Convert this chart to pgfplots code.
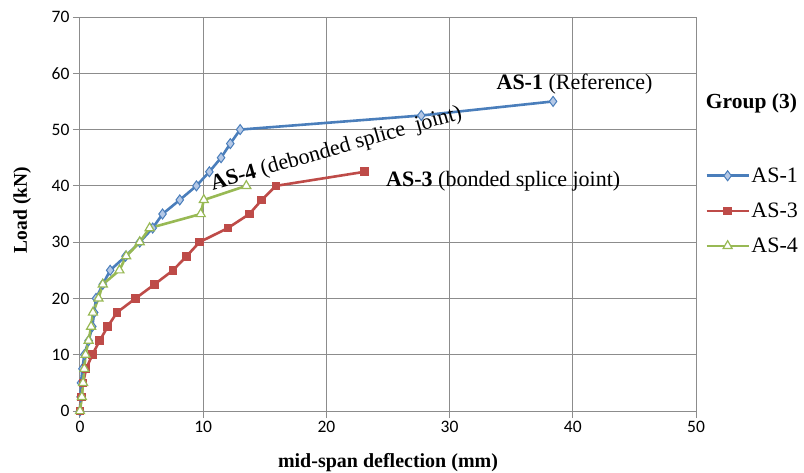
\documentclass[border=0pt]{standalone}
\usepackage{fontspec}
\setmainfont{Liberation Serif}
\newfontfamily\tickfont{Carlito}
\usepackage{pgfplots}
\pgfplotsset{compat=1.18}

\definecolor{serA}{HTML}{4A7EBB}
\definecolor{serAfill}{HTML}{B4C8E6}
\definecolor{serC}{HTML}{BE4B48}
\definecolor{serD}{HTML}{98B954}
\definecolor{gridgray}{HTML}{8C8C8C}

\begin{document}
\begin{tikzpicture}
\begin{axis}[
  scale only axis, width=616bp, height=394bp,
  xmin=0, xmax=50, ymin=0, ymax=70,
  xtick={0,10,...,50}, ytick={0,10,...,70},
  grid=major, major grid style={gridgray, line width=1bp},
  axis line style={gridgray, line width=1bp},
  tick style={gridgray, line width=1bp},
  tick align=outside, major tick length=7bp,
  xtick pos=lower, ytick pos=left,
  /pgf/number format/assume math mode=true,
  xticklabel style={font=\tickfont\fontsize{17.5bp}{20bp}\selectfont},
  yticklabel style={font=\tickfont\fontsize{17.5bp}{20bp}\selectfont},
  xlabel={\bfseries mid-span deflection (mm)},
  ylabel={\bfseries Load (kN)},
  xlabel style={font=\fontsize{20bp}{22bp}\selectfont, at={(axis description cs:0.5,-0.132)}, anchor=center},
  ylabel style={font=\fontsize{19.5bp}{22bp}\selectfont, at={(axis description cs:-0.094,0.51)}, anchor=center},
  clip=false,
  legend style={draw=none, fill=none, at={(rel axis cs:1.01,0.508)}, anchor=west,
    font=\fontsize{22bp}{26bp}\selectfont, row sep=16bp, nodes={inner sep=1.5bp}},
  legend cell align=left,
  legend image code/.code={\draw[mark repeat=2,mark phase=2,#1] plot coordinates {(0bp,0bp) (21bp,0bp) (42bp,0bp)};},
]
\coordinate (O) at (rel axis cs:0,0);

% AS-1 (reference beam)
\addplot[serA, line width=2.6bp, mark=diamond*, mark size=5bp,
  mark options={fill=serAfill, draw=serA, line width=1bp}] coordinates {
  (0,0) (0.05,2.5) (0.08,5) (0.2,7.5) (0.35,10) (0.7,12.5) (1.0,15) (1.15,17.5)
  (1.3,20) (1.85,22.5) (2.45,25) (3.7,27.5) (4.85,30) (5.9,32.5) (6.7,35)
  (8.1,37.5) (9.45,40) (10.5,42.5) (11.45,45) (12.2,47.5) (13.0,50)
  (27.7,52.5) (38.4,55)
};
\addlegendentry{AS-1}

% AS-3 (bonded splice joint)
\addplot[serC, line width=2.6bp, mark=square*, mark size=3.8bp,
  mark options={fill=serC, draw=serC, line width=1bp}] coordinates {
  (0,0) (0.1,2.5) (0.25,5) (0.5,7.5) (1.0,10) (1.6,12.5) (2.25,15) (3.0,17.5)
  (4.5,20) (6.05,22.5) (7.55,25) (8.65,27.5) (9.7,30) (12.0,32.5) (13.75,35)
  (14.75,37.5) (15.9,40) (23.1,42.5)
};
\addlegendentry{AS-3}

% AS-4 (debonded splice joint)
\addplot[serD, line width=2.6bp, mark=triangle*, mark size=5.2bp,
  mark options={fill=white, draw=serD, line width=1.2bp}] coordinates {
  (0,0) (0.15,2.5) (0.25,5) (0.35,7.5) (0.45,10) (0.7,12.5) (0.9,15) (1.05,17.5)
  (1.5,20) (1.85,22.5) (3.2,25) (3.75,27.5) (4.85,30) (5.65,32.5) (9.8,35)
  (10.05,37.5) (13.5,40)
};
\addlegendentry{AS-4}

\node[anchor=base west, inner sep=0pt, font=\fontsize{22bp}{26bp}\selectfont]
  at (axis cs:33.8,57.1) {\textbf{AS-1} (Reference)};
\node[anchor=base west, inner sep=0pt, font=\fontsize{22bp}{26bp}\selectfont]
  at (axis cs:24.84,39.9) {\textbf{AS-3} (bonded splice joint)};
\node[anchor=base west, inner sep=0pt, rotate=16, font=\fontsize{22bp}{26bp}\selectfont]
  at (axis cs:10.76,39.2) {\textbf{AS-4} (debonded splice\ \ joint)};
\node[inner sep=0pt, font=\bfseries\fontsize{21.5bp}{26bp}\selectfont]
  at (axis cs:54.5,54.7) {Group (3)};
\end{axis}
\pgfresetboundingbox
\path[use as bounding box] ([shift={(-80bp,-62bp)}]O) rectangle ([shift={(724bp,411bp)}]O);
\end{tikzpicture}
\end{document}
